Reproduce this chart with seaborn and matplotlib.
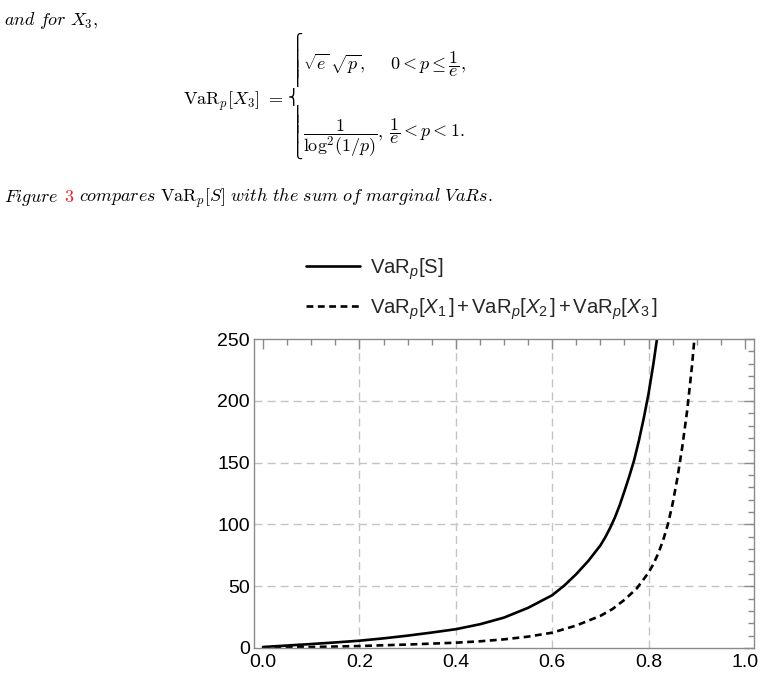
import math
import numpy as np
import pandas as pd
import matplotlib
matplotlib.use("Agg")
import matplotlib.pyplot as plt
import seaborn as sns
from matplotlib.lines import Line2D
from matplotlib.ticker import MultipleLocator
from matplotlib.textpath import TextPath
from matplotlib.font_manager import FontProperties

# ---------------- data ----------------
p_joint = [0.0, 0.05, 0.10, 0.15, 0.20, 0.25, 0.30, 0.35, 0.40, 0.45, 0.50,
           0.55, 0.60, 0.625, 0.65, 0.675, 0.70, 0.71, 0.72, 0.73, 0.74, 0.75,
           0.76, 0.77, 0.78, 0.79, 0.80, 0.81, 0.82, 0.83]
var_joint = [0.8, 2.0, 3.2, 4.5, 5.9, 7.8, 10.0, 12.5, 15.2, 19.2, 24.6,
             32.5, 42.7, 50.5, 59.8, 70.5, 83.0, 89.5, 97.0, 105.5, 115.5, 127.0,
             139.0, 152.0, 168.0, 186.0, 206.0, 230.0, 257.0, 290.0]
p_marg = [0.0, 0.10, 0.20, 0.30, 0.40, 0.45, 0.50, 0.55, 0.60, 0.65, 0.70,
          0.725, 0.75, 0.775, 0.80, 0.81, 0.82, 0.83, 0.84, 0.85, 0.86, 0.87,
          0.88, 0.89, 0.90]
var_marg = [0.2, 0.8, 1.6, 2.8, 4.3, 5.4, 7.0, 9.2, 12.4, 18.2, 26.0,
            31.5, 39.0, 48.0, 61.0, 68.0, 76.5, 87.0, 100.0, 117.0, 138.0, 163.0,
            192.0, 228.0, 272.0]
x_ticks = [0.0, 0.2, 0.4, 0.6, 0.8, 1.0]
y_ticks = [0, 50, 100, 150, 200, 250]
x_grid = [0.2, 0.4, 0.6, 0.8]
y_grid = [50, 100, 150, 200]
legend_labels = [r"VaR$_p$[S]",
                 r"VaR$_p$[$X_1\,$]$\,$+$\,$VaR$_p$[$X_2\,$]$\,$+$\,$VaR$_p$[$X_3\,$]"]

df_joint = pd.DataFrame({"p": p_joint, "VaR": var_joint})
df_marg = pd.DataFrame({"p": p_marg, "VaR": var_marg})

# ---------------- style ----------------
sns.set_theme(style="white")
plt.rcParams.update({
    "font.family": ["Liberation Sans", "DejaVu Sans"],
    "mathtext.fontset": "custom",
    "mathtext.rm": "Liberation Sans",
    "mathtext.it": "Liberation Sans:italic",
    "mathtext.bf": "Liberation Sans:bold",
})

W, H = 764, 677
fig = plt.figure(figsize=(W / 100, H / 100), dpi=100)
fig.patch.set_facecolor("white")
ax = fig.add_axes([254 / W, 1 - 648 / H, 500 / W, 309 / H])
ax.set_facecolor("white")

for gx in x_grid:
    ax.axvline(gx, color="#c4c4c4", lw=1.0, dashes=(5.8, 3.6), zorder=0)
for gy in y_grid:
    ax.axhline(gy, color="#c4c4c4", lw=1.0, dashes=(5.8, 3.6), zorder=0)

sns.lineplot(data=df_joint, x="p", y="VaR", ax=ax, color="black", lw=1.9,
             estimator=None, sort=False, legend=False)
sns.lineplot(data=df_marg, x="p", y="VaR", ax=ax, color="black", lw=1.9,
             estimator=None, sort=False, legend=False)
ax.lines[-1].set_dashes((2.6, 1.7))

ax.set_xlim(-0.0187, 1.0187)
ax.set_ylim(0, 250)
ax.set_xticks(x_ticks)
ax.set_xticklabels([f"{t:.1f}" for t in x_ticks])
ax.set_yticks(y_ticks)
ax.set_yticklabels([f"{t:d}" for t in y_ticks])
ax.xaxis.set_minor_locator(MultipleLocator(0.05))
ax.yaxis.set_minor_locator(MultipleLocator(10))
ax.tick_params(which="both", direction="in", top=True, right=True,
               color="#8a8a8a", width=1.0, labelsize=14, labelcolor="black")
ax.tick_params(which="major", length=7)
ax.tick_params(which="minor", length=4)
ax.tick_params(axis="x", pad=4)
ax.tick_params(axis="y", pad=3)
ax.set_xlabel("")
ax.set_ylabel("")
for s in ax.spines.values():
    s.set_color("#8a8a8a")
    s.set_linewidth(1.0)

handles = [Line2D([], [], color="black", lw=1.9),
           Line2D([], [], color="black", lw=1.9, dashes=(2.6, 1.7))]
fig.legend(handles, legend_labels, loc="upper left",
           bbox_to_anchor=(306 / W, 1 - 256 / H), frameon=False, fontsize=14.6,
           handlelength=2.65, handletextpad=0.5, labelspacing=0.72,
           borderpad=0, borderaxespad=0)

# ---------------- paper text above the figure ----------------
FS = 13
kw = dict(math_fontfamily="cm", fontsize=FS, color="black")


def px(x, y):
    return x / W, 1 - y / H


fig.text(*px(4, 25), r"$\mathit{and\ for}\ X_3,$", va="baseline", ha="left", **kw)
fig.text(*px(283, 105), r"$\mathrm{VaR}_p[X_3]\ =$", va="baseline", ha="right", **kw)
fig.text(*px(303, 70), r"$\sqrt{e}\,\sqrt{p},$", va="baseline", ha="left", **kw)
fig.text(*px(390, 70), r"$0<p\leq\dfrac{1}{e},$", va="baseline", ha="left", **kw)
fig.text(*px(303, 137), r"$\dfrac{1}{\mathrm{log}^2(1/p)},$", va="baseline", ha="left", **kw)
fig.text(*px(389, 137), r"$\dfrac{1}{e}<p<1.$", va="baseline", ha="left", **kw)

# large left brace built from the Unicode brace pieces
BFS = 11
bfp = FontProperties(family="DejaVu Sans", size=BFS)


def ink(c):
    e = TextPath((0, 0), c, size=BFS, prop=bfp).get_extents()
    k = 100 / 72
    return e.x0 * k, e.y0 * k, e.x1 * k, e.y1 * k


BX, B_TOP, B_BOT = 286.5, 32, 160
B_MID = (B_TOP + B_BOT) / 2


def piece(c, ink_top):
    x0, y0, x1, y1 = ink(c)
    base = ink_top + y1
    fig.text((BX + x0) / W, 1 - base / H, c, fontsize=BFS, family="DejaVu Sans",
             va="baseline", ha="left", color="black")
    return ink_top + (y1 - y0)


top = ink("\u23a7")
mid = ink("\u23a8")
bot = ink("\u23a9")
ext = ink("\u23aa")
h_top = top[3] - top[1]
h_mid = mid[3] - mid[1]
h_bot = bot[3] - bot[1]
h_ext = ext[3] - ext[1]

piece("\u23a7", B_TOP)
piece("\u23a8", B_MID - h_mid / 2)
piece("\u23a9", B_BOT - h_bot)
for g0, g1 in [(B_TOP + h_top, B_MID - h_mid / 2), (B_MID + h_mid / 2, B_BOT - h_bot)]:
    gap = g1 - g0
    if gap > 0:
        n = max(1, math.ceil((gap + 1) / h_ext))
        if n == 1:
            starts = [g0 + (gap - h_ext) / 2]
        else:
            starts = [g0 - 0.5 + k * (gap + 1 - h_ext) / (n - 1) for k in range(n)]
        for s0 in starts:
            piece("\u23aa", s0)

fig.canvas.draw()
r = fig.canvas.get_renderer()
t1 = fig.text(*px(4, 202), r"$\mathit{Figure}$", va="baseline", ha="left", **kw)
x_end = t1.get_window_extent(r).x1
t2 = fig.text((x_end + 5) / W, 1 - 202 / H, r"$\mathit{3}$", va="baseline", ha="left",
              math_fontfamily="cm", fontsize=FS, color="#ee2222")
x_end = t2.get_window_extent(r).x1
fig.text((x_end + 5) / W, 1 - 202 / H,
         r"$\mathit{compares}\ \mathrm{VaR}_p[S]\ \mathit{with\ the\ sum\ of\ marginal\ VaRs.}$",
         va="baseline", ha="left", **kw)

fig.savefig("out.png", dpi=100, facecolor="white")
